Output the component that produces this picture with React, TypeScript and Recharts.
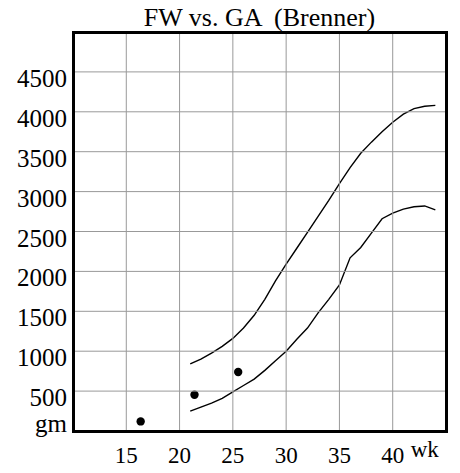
import {
  ComposedChart,
  Line,
  Scatter,
  XAxis,
  YAxis,
} from 'recharts'

// gestational age (weeks) and fetal weight (gm) percentile bands
const WEEKS = [21, 22, 23, 24, 25, 26, 27, 28, 29, 30, 31, 32, 33, 34, 35, 36, 37, 38, 39, 40, 41, 42, 43, 44]
const UPPER_FW = [840, 900, 975, 1060, 1160, 1290, 1450, 1650, 1880, 2090, 2290, 2490, 2690, 2890, 3100, 3300, 3480, 3620, 3750, 3870, 3970, 4040, 4070, 4080]
const LOWER_FW = [250, 300, 350, 410, 490, 570, 650, 760, 880, 1000, 1150, 1290, 1480, 1650, 1830, 2170, 2300, 2480, 2660, 2730, 2780, 2810, 2820, 2770]

// measured cases
const CASE_WEEKS = [16.35, 21.4, 25.5]
const CASE_FW = [120, 455, 740]

const X_TICKS = [15, 20, 25, 30, 35, 40]
const Y_TICKS = [0, 500, 1000, 1500, 2000, 2500, 3000, 3500, 4000, 4500]

const upper = WEEKS.map((w, i) => ({ w, v: UPPER_FW[i] }))
const lower = WEEKS.map((w, i) => ({ w, v: LOWER_FW[i] }))
const cases = CASE_WEEKS.map((w, i) => ({ w, v: CASE_FW[i] }))

// layout
const CHART_W = 452
const CHART_H = 460
const MARGIN = { top: 24, right: 14, bottom: 7, left: 0 }
const Y_AXIS_W = 65
const X_AXIS_H = 30
const PLOT_LEFT = MARGIN.left + Y_AXIS_W
const PLOT_RIGHT = CHART_W - MARGIN.right
const PLOT_TOP = MARGIN.top
const PLOT_BOTTOM = CHART_H - MARGIN.bottom - X_AXIS_H

const FONT = '"Liberation Serif", "Times New Roman", serif'
const GRID = '#999'

// x tick: label plus the vertical grid line for that week
function XTick(props: any) {
  const { x, y, payload } = props
  return (
    <g>
      <line x1={x} x2={x} y1={PLOT_TOP} y2={PLOT_BOTTOM} stroke={GRID} strokeWidth={1} />
      <text x={x} y={y + 24} textAnchor="middle" fontFamily={FONT} fontSize={23} fill="#000">
        {payload.value}
      </text>
      {payload.value === 40 && (
        <text x={x + 18} y={y + 18} textAnchor="start" fontFamily={FONT} fontSize={23} fill="#000">
          wk
        </text>
      )}
    </g>
  )
}

// y tick: label plus the horizontal grid line; the zero tick is labelled with the unit
function YTick(props: any) {
  const { x, y, payload } = props
  const isZero = payload.value === 0
  return (
    <g>
      {!isZero && <line x1={PLOT_LEFT} x2={PLOT_RIGHT} y1={y} y2={y} stroke={GRID} strokeWidth={1} />}
      <text x={x + 2} y={isZero ? y + 1 : y + 15} textAnchor="end" fontFamily={FONT} fontSize={25} fill="#000">
        {isZero ? 'gm' : String(payload.value)}
      </text>
    </g>
  )
}

export default function App() {
  return (
    <div style={{ position: 'relative', width: CHART_W, height: CHART_H }}>
      <div
        style={{
          position: 'absolute',
          zIndex: 1,
          left: PLOT_LEFT,
          width: PLOT_RIGHT - PLOT_LEFT,
          top: -5,
          textAlign: 'center',
          fontFamily: FONT,
          fontSize: 26,
          whiteSpace: 'pre',
        }}
      >
        {'FW vs. GA  (Brenner)'}
      </div>
      <ComposedChart width={CHART_W} height={CHART_H} data={upper} margin={MARGIN}>
        <XAxis
          dataKey="w"
          type="number"
          domain={[10, 45]}
          ticks={X_TICKS}
          axisLine={false}
          tickLine={false}
          height={X_AXIS_H}
          tick={<XTick />}
        />
        <YAxis
          type="number"
          domain={[0, 5000]}
          ticks={Y_TICKS}
          axisLine={false}
          tickLine={false}
          width={Y_AXIS_W}
          tick={<YTick />}
        />
        <Line dataKey="v" type="linear" stroke="#000" strokeWidth={1.4} dot={false} isAnimationActive={false} />
        <Line data={lower} dataKey="v" type="linear" stroke="#000" strokeWidth={1.4} dot={false} isAnimationActive={false} />
        <Scatter
          data={cases}
          dataKey="v"
          fill="#000"
          isAnimationActive={false}
          shape={(p: any) => <circle cx={p.cx} cy={p.cy} r={4.2} fill="#000" />}
        />
      </ComposedChart>
      {/* plot frame */}
      <div
        style={{
          position: 'absolute',
          pointerEvents: 'none',
          boxSizing: 'border-box',
          left: PLOT_LEFT - 1.5,
          top: PLOT_TOP - 1.5,
          width: PLOT_RIGHT - PLOT_LEFT + 3,
          height: PLOT_BOTTOM - PLOT_TOP + 3,
          border: '3px solid #000',
        }}
      />
    </div>
  )
}
